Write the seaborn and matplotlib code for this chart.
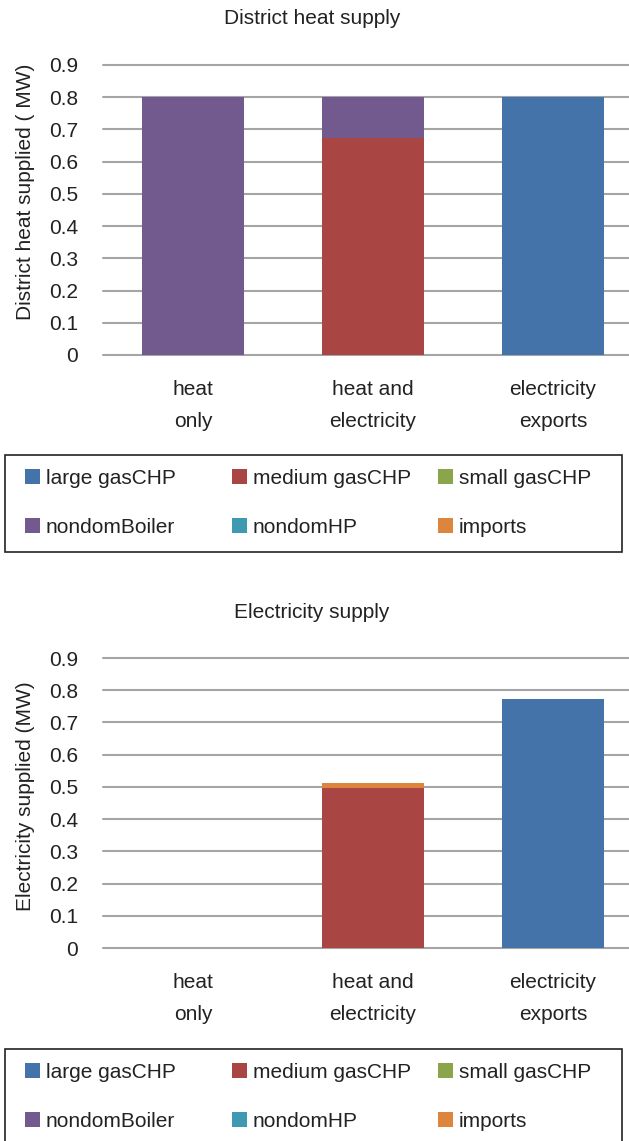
import matplotlib
matplotlib.use("Agg")
import matplotlib.pyplot as plt
from matplotlib.patches import Patch, Rectangle
import numpy as np
import seaborn as sns

# ---- data -------------------------------------------------------------
categories = ["heat\nonly", "heat and\nelectricity", "electricity\nexports"]
sources = ["large gasCHP", "medium gasCHP", "small gasCHP",
           "nondomBoiler", "nondomHP", "imports"]

# District heat supplied (MW) per source, one value per category
heat_large_gaschp = [0.0, 0.0, 0.80]
heat_medium_gaschp = [0.0, 0.673, 0.0]
heat_small_gaschp = [0.0, 0.0, 0.0]
heat_nondom_boiler = [0.80, 0.127, 0.0]
heat_nondom_hp = [0.0, 0.0, 0.0]
heat_imports = [0.0, 0.0, 0.0]

# Electricity supplied (MW) per source
elec_large_gaschp = [0.0, 0.0, 0.773]
elec_medium_gaschp = [0.0, 0.497, 0.0]
elec_small_gaschp = [0.0, 0.0, 0.0]
elec_nondom_boiler = [0.0, 0.0, 0.0]
elec_nondom_hp = [0.0, 0.0, 0.0]
elec_imports = [0.0, 0.015, 0.0]

y_ticks = [0, 0.1, 0.2, 0.3, 0.4, 0.5, 0.6, 0.7, 0.8, 0.9]
y_tick_labels = ["0", "0.1", "0.2", "0.3", "0.4", "0.5", "0.6", "0.7", "0.8", "0.9"]

colors = ["#4373A8", "#A94644", "#8BA54A", "#725A8F", "#3F9AB1", "#DD853D"]

# ---- style ------------------------------------------------------------
sns.set_style("white")
plt.rcParams["font.family"] = ["Liberation Sans", "DejaVu Sans"]
FS = 15
TXT = "#222222"
GRID = "#A5A5A5"

W, H = 629, 1141
fig = plt.figure(figsize=(W / 100, H / 100), dpi=100)


def fx(px):
    return px / W


def fy(py):
    return 1 - py / H


def draw_panel(ax, series, title, title_y, ylabel, ylabel_y):
    cum = np.zeros(len(categories))
    for vals, col in zip(series, colors):
        sns.barplot(x=categories, y=vals, bottom=cum.copy(), color=col,
                    saturation=1, width=0.57, linewidth=0, errorbar=None,
                    ax=ax)
        cum = cum + np.array(vals)
    ax.set_xlim(-0.5, -0.5 + 526 / 180)
    ax.set_ylim(0, 0.9)
    ax.set_yticks(y_ticks)
    ax.set_yticklabels(y_tick_labels)
    ax.yaxis.grid(True, color=GRID, linewidth=1.5)
    ax.set_axisbelow(True)
    for gl in ax.get_ygridlines():
        gl.set_clip_on(False)
    for s in ax.spines.values():
        s.set_visible(False)
    ax.tick_params(axis="y", length=0, pad=18, labelsize=FS, labelcolor=TXT)
    ax.tick_params(axis="x", length=0, pad=18, labelsize=FS, labelcolor=TXT)
    for lab in ax.get_xticklabels():
        lab.set_linespacing(1.85)
    ax.set_xlabel("")
    ax.set_ylabel(ylabel, fontsize=FS, color=TXT, va="center",
                  rotation_mode="default")
    ax.yaxis.set_label_coords((25 - 103) / 526, ylabel_y)
    fig.text(fx(312), fy(title_y), title, ha="center", va="center",
             fontsize=FS, color=TXT)


def draw_legend(top_px, row1_px, height_px):
    handles = [Patch(facecolor=c, edgecolor="none") for c in colors]
    col_x = [25, 232, 438]
    for i, x in enumerate(col_x):
        fig.legend(handles=[handles[i], handles[i + 3]],
                   labels=[sources[i], sources[i + 3]],
                   loc="upper left",
                   bbox_to_anchor=(fx(x), fy(row1_px - 10)),
                   frameon=False, fontsize=FS, labelcolor=TXT,
                   handlelength=0.7, handleheight=0.7,
                   handletextpad=0.3, labelspacing=1.42,
                   borderpad=0, borderaxespad=0)
    fig.add_artist(Rectangle((fx(5), fy(top_px + height_px)),
                             fx(622) - fx(5), height_px / H,
                             transform=fig.transFigure, fill=False,
                             edgecolor="#222222", linewidth=1.2))


# top panel: district heat
ax1 = fig.add_axes([fx(103), fy(355), fx(526), 290 / H])
draw_panel(ax1,
           [heat_large_gaschp, heat_medium_gaschp, heat_small_gaschp,
            heat_nondom_boiler, heat_nondom_hp, heat_imports],
           "District heat supply", 18,
           "District heat supplied ( MW)", (355 - 192) / 290)
draw_legend(455, 479, 97)

# bottom panel: electricity
ax2 = fig.add_axes([fx(103), fy(948), fx(526), 290 / H])
draw_panel(ax2,
           [elec_large_gaschp, elec_medium_gaschp, elec_small_gaschp,
            elec_nondom_boiler, elec_nondom_hp, elec_imports],
           "Electricity supply", 612,
           "Electricity supplied (MW)", (948 - 796) / 290)
draw_legend(1049, 1073, 100)

fig.savefig("out.png", dpi=100)
